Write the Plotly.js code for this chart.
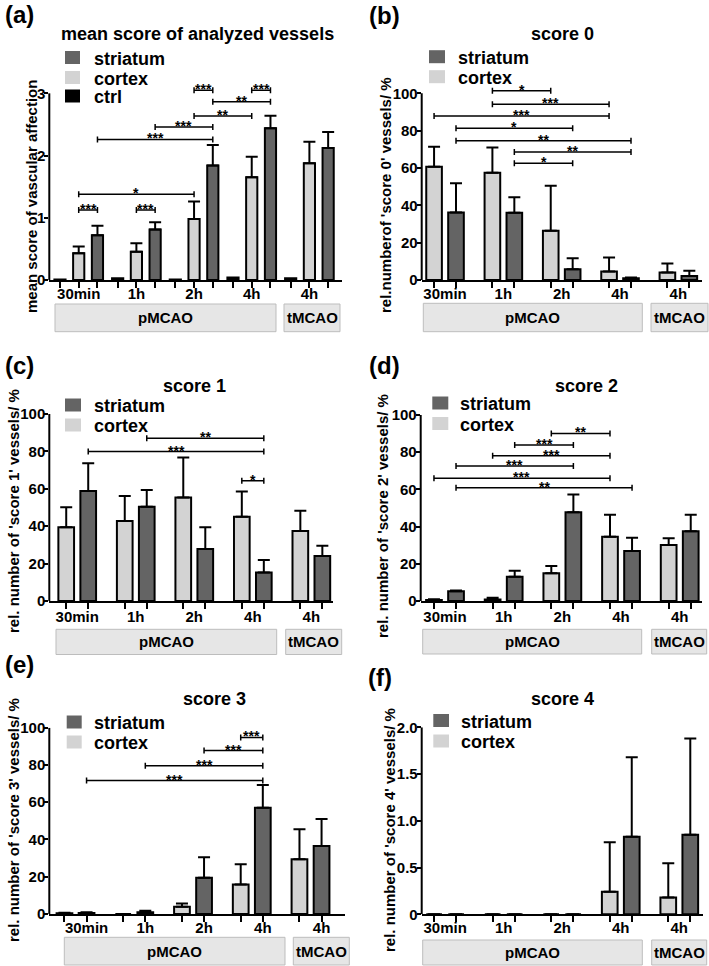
<!DOCTYPE html>
<html><head><meta charset="utf-8">
<script src="https://cdn.plot.ly/plotly-3.0.1.min.js"></script>
<style>html,body{margin:0;padding:0;background:#fff}#chart{width:709px;height:966px}</style>
</head><body><div id="chart"></div>
<script>
// ---------------- data ----------------
const timeLabels = ['30min', '1h', '2h', '4h', '4h'];
const modelLabels = ['pMCAO', 'tMCAO'];
const panelTags = ['(a)', '(b)', '(c)', '(d)', '(e)', '(f)'];
const panelTitles = ['mean score of analyzed vessels', 'score 0', 'score 1', 'score 2', 'score 3', 'score 4'];
const yTitles = ['mean score of vascular affection', "rel.numberof 'score 0' vessels/ %",
  "rel. number of 'score 1' vessels/ %", "rel. number of 'score 2' vessels/ %",
  "rel. number of 'score 3' vessels/ %", "rel. number of 'score 4' vessels/ %"];

const yTickValsMean = [0, 1, 2, 3];
const yTickTextMean = ['0', '1', '2', '3'];
const yTickValsPct = [0, 20, 40, 60, 80, 100];
const yTickTextPct = ['0', '20', '40', '60', '80', '100'];
const yTickValsS4 = [0, 0.5, 1, 1.5, 2];
const yTickTextS4 = ['0', '0.5', '1.0', '1.5', '2.0'];

// (a) mean score
const meanCtrl = [0.01, 0.03, 0.01, 0.04, 0.03];
const meanCortex = [0.43, 0.455, 0.98, 1.65, 1.875];
const meanCortexErr = [0.11, 0.135, 0.28, 0.33, 0.345];
const meanStriatum = [0.72, 0.81, 1.84, 2.44, 2.12];
const meanStriatumErr = [0.15, 0.12, 0.33, 0.20, 0.26];
// (b) score 0
const s0Cortex = [60.7, 57.5, 26.4, 4.6, 4.0];
const s0CortexErr = [10.7, 13.5, 24.1, 7.4, 4.8];
const s0Striatum = [36.2, 36.0, 5.7, 0.9, 2.2];
const s0StriatumErr = [15.6, 8.3, 6.0, 0.5, 2.8];
// (c) score 1
const s1Cortex = [39.4, 42.8, 55.4, 45.1, 37.4];
const s1CortexErr = [10.7, 13.3, 21.4, 13.4, 10.9];
const s1Striatum = [58.8, 50.4, 27.8, 15.2, 24.1];
const s1StriatumErr = [14.8, 9.0, 11.6, 6.7, 5.5];
// (d) score 2
const s2Cortex = [0.5, 0.8, 14.9, 34.6, 30.1];
const s2CortexErr = [0.4, 0.9, 3.9, 11.8, 3.6];
const s2Striatum = [5.2, 13.1, 47.7, 26.9, 37.5];
const s2StriatumErr = [0.4, 3.1, 9.6, 7.1, 8.9];
// (e) score 3
const s3Cortex = [0.4, 0, 3.9, 15.9, 29.4];
const s3CortexErr = [0.3, 0, 1.8, 10.8, 16.1];
const s3Striatum = [0.6, 1.0, 19.5, 57.0, 36.5];
const s3StriatumErr = [0.4, 0.8, 10.9, 12.2, 14.5];
// (f) score 4
const s4Cortex = [0, 0, 0, 0.24, 0.18];
const s4CortexErr = [0, 0, 0, 0.53, 0.365];
const s4Striatum = [0, 0, 0, 0.83, 0.85];
const s4StriatumErr = [0, 0, 0, 0.85, 1.03];

// significance brackets: [group1, series1, group2, series2, height, stars]
const sigA = [[0,'cortex',0,'striatum',1.125,'***'],[1,'cortex',1,'striatum',1.125,'***'],
  [0,'cortex',2,'cortex',1.377,'*'],[0,'striatum',2,'striatum',2.26,'***'],
  [1,'striatum',2,'striatum',2.46,'***'],[2,'cortex',3,'cortex',2.635,'**'],
  [2,'striatum',3,'striatum',2.865,'**'],[2,'cortex',2,'striatum',3.05,'***'],
  [3,'cortex',3,'striatum',3.05,'***']];
const sigB = [[1,'cortex',2,'cortex',101.4,'*'],[1,'cortex',3,'cortex',94.1,'***'],
  [0,'cortex',3,'cortex',87.9,'***'],[0,'striatum',2,'striatum',81.25,'*'],
  [0,'striatum',3,'striatum',74.6,'**'],[1,'striatum',3,'striatum',68.6,'**'],
  [1,'striatum',2,'striatum',62.5,'*']];
const sigC = [[1,'striatum',3,'striatum',87.0,'**'],[0,'striatum',3,'striatum',79.9,'***'],
  [3,'cortex',3,'striatum',64.3,'*']];
const sigD = [[2,'cortex',3,'cortex',90.1,'**'],[1,'striatum',2,'striatum',83.9,'***'],
  [1,'cortex',3,'cortex',78.1,'***'],[0,'striatum',2,'striatum',72.6,'***'],
  [0,'cortex',3,'cortex',66.0,'***'],[0,'striatum',3,'striatum',60.9,'**']];
const sigE = [[3,'cortex',3,'striatum',94.8,'***'],[2,'striatum',3,'striatum',87.7,'***'],
  [1,'striatum',3,'striatum',79.6,'***'],[0,'striatum',3,'striatum',71.6,'***']];
const sigF = [];

// ---------------- styling / layout ----------------
const W = 709, H = 966;
const px = v => v / W, py = v => 1 - v / H;
const FONT = "'Liberation Sans', Arial, Helvetica, sans-serif";
const colors = {striatum: '#646464', cortex: '#d3d3d3', ctrl: '#000000'};
const off3 = {ctrl: -0.325, cortex: 0, striatum: 0.325}, w3 = 0.194;
const off2 = {cortex: -0.188, striatum: 0.188}, w2 = 0.268;

const panels = [
  {series: [['ctrl', meanCtrl, null], ['cortex', meanCortex, meanCortexErr], ['striatum', meanStriatum, meanStriatumErr]],
   legend: ['striatum', 'cortex', 'ctrl'], tv: yTickValsMean, tt: yTickTextMean, sig: sigA},
  {series: [['cortex', s0Cortex, s0CortexErr], ['striatum', s0Striatum, s0StriatumErr]],
   legend: ['striatum', 'cortex'], tv: yTickValsPct, tt: yTickTextPct, sig: sigB},
  {series: [['cortex', s1Cortex, s1CortexErr], ['striatum', s1Striatum, s1StriatumErr]],
   legend: ['striatum', 'cortex'], tv: yTickValsPct, tt: yTickTextPct, sig: sigC},
  {series: [['cortex', s2Cortex, s2CortexErr], ['striatum', s2Striatum, s2StriatumErr]],
   legend: ['striatum', 'cortex'], tv: yTickValsPct, tt: yTickTextPct, sig: sigD},
  {series: [['cortex', s3Cortex, s3CortexErr], ['striatum', s3Striatum, s3StriatumErr]],
   legend: ['striatum', 'cortex'], tv: yTickValsPct, tt: yTickTextPct, sig: sigE},
  {series: [['cortex', s4Cortex, s4CortexErr], ['striatum', s4Striatum, s4StriatumErr]],
   legend: ['striatum', 'cortex'], tv: yTickValsS4, tt: yTickTextS4, sig: sigF}
];

// pixel geometry per panel
const geom = [
  {xPx:[49.3,341.7], xr:[-0.51,4.56], y0:280, yM:93.33, yTop:1.0667, lab:0, lso:3,
   tag:[3,15], title:[197,33], yt:[31,197], lg:{sq:[65,80], rows:[57.5,77.5,96], tx:92},
   box:{p:[55,276], t:[284,340], y:[304,331.7]}},
  {xPx:[421.7,701.7], xr:[-0.4,4.4], y0:280, yM:93.33, yTop:1.04, lab:0, lso:3,
   tag:[367,16], title:[562.3,33], yt:[385,195], lg:{sq:[429,445], rows:[56.7,76.7], tx:455.7},
   box:{p:[423.3,642.3], t:[651,708], y:[303.3,331.7]}},
  {xPx:[49.3,333], xr:[-0.477,4.37], y0:601, yM:414, yTop:1, lab:0, lso:5,
   tag:[3,365], title:[194.3,385], yt:[13,511], lg:{sq:[65,81], rows:[405,425], tx:91.7},
   box:{p:[56,276.7], t:[285.7,341.7], y:[629.3,654.5]}},
  {xPx:[420.7,701.7], xr:[-0.414,4.375], y0:601, yM:415, yTop:1, lab:0, lso:5,
   tag:[367,366], title:[586,385], yt:[382,516], lg:{sq:[432.3,448.3], rows:[403,423.5], tx:458.3},
   box:{p:[422.7,641.7], t:[651.7,706.7], y:[629.3,654]}},
  {xPx:[49.3,345], xr:[-0.446,4.587], y0:914, yM:727.7, yTop:1, lab:0.188, lso:3,
   tag:[3,664], title:[214.3,697.7], yt:[13,820], lg:{sq:[66.7,81.7], rows:[722,742], tx:92.3},
   box:{p:[64.3,285], t:[293.3,349.3], y:[937.3,965]}},
  {xPx:[421.7,702.7], xr:[-0.4,4.4], y0:914.3, yM:727.3, yTop:1, lab:0, lso:3,
   tag:[366,677], title:[562.7,698.3], yt:[389,830], lg:{sq:[433.3,449], rows:[720.5,741], tx:459},
   box:{p:[422.7,642.3], t:[651.7,706.7], y:[940,965]}}
];

const data = [];
const layout = {
  width: W, height: H, margin: {l: 0, r: 0, t: 0, b: 0},
  paper_bgcolor: '#ffffff', plot_bgcolor: 'rgba(0,0,0,0)',
  showlegend: false, barmode: 'overlay',
  font: {family: FONT, color: '#000'},
  shapes: [], annotations: []
};
const bold = (size) => ({family: FONT, size: size, color: '#000', weight: 'bold'});

panels.forEach((p, i) => {
  const g = geom[i];
  const xa = i === 0 ? 'x' : 'x' + (i + 1);
  const ya = i === 0 ? 'y' : 'y' + (i + 1);
  const xl = 'x' + (i + 7);
  const three = p.series.length === 3;
  const off = three ? off3 : off2;
  const bw = three ? w3 : w2;
  const yMax = p.tv[p.tv.length - 1];
  const groups = timeLabels.map((_, k) => k);
  const labelPos = groups.map(k => k + g.lab);

  p.series.forEach(([name, vals, err]) => {
    const tr = {
      type: 'bar', x: groups, y: vals, name: name,
      xaxis: xa, yaxis: ya, width: bw, offset: off[name] - bw / 2,
      marker: {color: colors[name], line: {color: '#000', width: 2}},
      hoverinfo: 'skip', showlegend: false
    };
    if (err) tr.error_y = {type: 'data', symmetric: false, array: err,
      arrayminus: err.map(() => 0), color: '#000', thickness: 2, width: 6};
    data.push(tr);
  });
  // carrier trace for the category-label axis (draws nothing)
  data.push({type: 'scatter', mode: 'markers', x: labelPos, y: labelPos.map(() => null),
    xaxis: xl, yaxis: ya, hoverinfo: 'skip', showlegend: false, marker: {opacity: 0}});

  const tickPos = [];
  groups.forEach(k => p.series.forEach(([name]) => tickPos.push(k + off[name])));

  const ypx0 = g.y0, ypxTop = g.y0 - (g.y0 - g.yM) * g.yTop;
  const xdom = [px(g.xPx[0]), px(g.xPx[1])];
  const ydom = [py(ypx0), py(ypxTop)];

  layout['xaxis' + (i === 0 ? '' : i + 1)] = {
    domain: xdom, range: g.xr, anchor: ya, showgrid: false, zeroline: false,
    showline: true, linecolor: '#000', linewidth: 2,
    tickmode: 'array', tickvals: tickPos, ticks: 'outside', ticklen: 6, tickwidth: 2,
    tickcolor: '#000', showticklabels: false, fixedrange: true
  };
  layout['xaxis' + (i + 7)] = {
    overlaying: xa, anchor: ya, range: g.xr, showgrid: false, zeroline: false,
    showline: false, tickmode: 'array', tickvals: labelPos,
    ticktext: timeLabels, ticks: '', tickfont: bold(15), ticklabelstandoff: g.lso, fixedrange: true
  };
  layout['yaxis' + (i === 0 ? '' : i + 1)] = {
    domain: ydom, range: [0, yMax * g.yTop], anchor: xa, showgrid: false, zeroline: false,
    showline: false, tickmode: 'array', tickvals: p.tv, ticktext: p.tt,
    ticks: 'outside', ticklen: 4, tickwidth: 2, tickcolor: '#000',
    tickfont: bold(15), ticklabelstandoff: -4, fixedrange: true
  };
  // y axis line (ends at top tick)
  layout.shapes.push({type: 'line', xref: xa + ' domain', yref: ya, x0: 0, x1: 0, y0: 0, y1: yMax,
    line: {color: '#000', width: 2}});

  // significance brackets
  p.sig.forEach(([g1, s1, g2, s2, h, stars]) => {
    const xA = g1 + off[s1], xB = g2 + off[s2];
    layout.shapes.push({type: 'line', xref: xa, yref: ya, x0: xA, x1: xB, y0: h, y1: h,
      line: {color: '#000', width: 1.5}});
    [xA, xB].forEach(xe => layout.shapes.push({type: 'line', xref: xa, yref: ya,
      ysizemode: 'pixel', yanchor: h, y0: -3, y1: 3, x0: xe, x1: xe, line: {color: '#000', width: 1.5}}));
    layout.annotations.push({xref: xa, yref: ya, x: (xA + xB) / 2, y: h, text: stars,
      showarrow: false, xanchor: 'center', yanchor: 'bottom', yshift: -9, font: bold(14)});
  });

  // region boxes
  [['p', 0], ['t', 1]].forEach(([k, m]) => {
    const bx = g.box[k];
    layout.shapes.push({type: 'rect', xref: 'paper', yref: 'paper',
      x0: px(bx[0]), x1: px(bx[1]), y0: py(g.box.y[1]), y1: py(g.box.y[0]),
      fillcolor: '#e6e6e6', line: {color: '#bdbdbd', width: 1}, layer: 'below'});
    layout.annotations.push({xref: 'paper', yref: 'paper', x: px((bx[0] + bx[1]) / 2),
      y: py((g.box.y[0] + g.box.y[1]) / 2), text: modelLabels[m], showarrow: false,
      xanchor: 'center', yanchor: 'middle', font: bold(15)});
  });

  // legend
  p.legend.forEach((name, r) => {
    const yc = g.lg.rows[r];
    layout.shapes.push({type: 'rect', xref: 'paper', yref: 'paper',
      x0: px(g.lg.sq[0]), x1: px(g.lg.sq[1]), y0: py(yc + 6.5), y1: py(yc - 6.5),
      fillcolor: colors[name], line: {width: 0}});
    layout.annotations.push({xref: 'paper', yref: 'paper', x: px(g.lg.tx), y: py(yc + 1),
      text: name, showarrow: false, xanchor: 'left', yanchor: 'middle', font: bold(18)});
  });

  // titles
  layout.annotations.push({xref: 'paper', yref: 'paper', x: px(g.tag[0]), y: py(g.tag[1]),
    text: panelTags[i], showarrow: false, xanchor: 'left', yanchor: 'middle', font: bold(24)});
  layout.annotations.push({xref: 'paper', yref: 'paper', x: px(g.title[0]), y: py(g.title[1] + 1),
    text: panelTitles[i], showarrow: false, xanchor: 'center', yanchor: 'middle', font: bold(18)});
  layout.annotations.push({xref: 'paper', yref: 'paper', x: px(g.yt[0]), y: py(g.yt[1]),
    text: yTitles[i], showarrow: false, textangle: -90, xanchor: 'center', yanchor: 'middle',
    font: bold(15)});
});

Plotly.newPlot('chart', data, layout, {displayModeBar: false, staticPlot: true});
</script>
</body></html>
